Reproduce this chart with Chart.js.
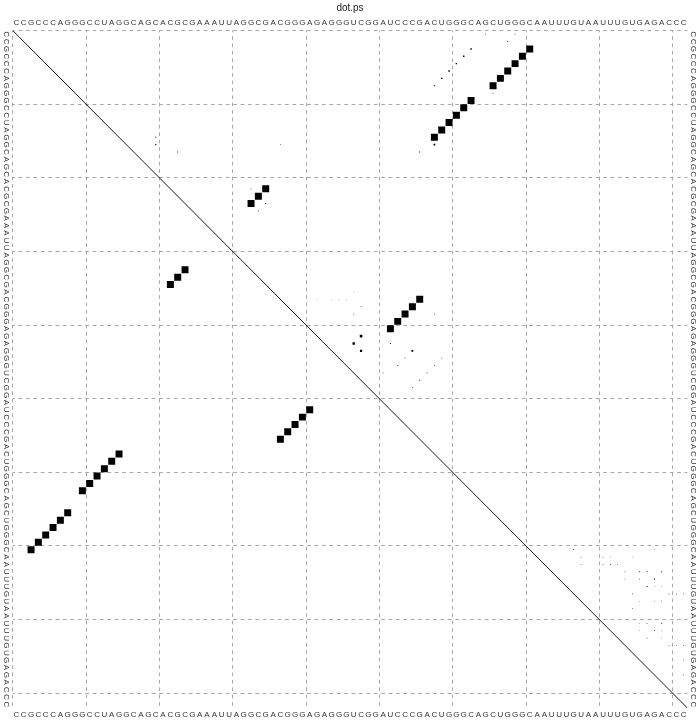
<!DOCTYPE html>
<html>
<head>
<meta charset="utf-8">
<script src="https://cdn.jsdelivr.net/npm/chart.js@4.4.0/dist/chart.umd.min.js"></script>
<style>
  html, body { margin: 0; padding: 0; background: #fff; }
  #wrap { width: 700px; height: 720px; }
</style>
</head>
<body>
<div id="wrap"><canvas id="dot"></canvas></div>
<script>
// RNA dot plot (dot.ps)
var SEQUENCE = 'CCGCCCAGGGCCUAGGCAGCACGCGAAAUUAGGCGACGGGAGAGGGUCGGAUCCCGACUGGGCAGCUGGGCAAUUUGUAAUUUGUGAGACCC';
var SEQ_LEN = SEQUENCE.length;
var POSITIONS = SEQUENCE.split('').map(function (c, k) { return k + 1; });

// mfe structure, lower left triangle
var MFE_I = [3, 4, 5, 6, 7, 8, 10, 11, 12, 13, 14, 15, 22, 23, 24, 37, 38, 39, 40, 41];
var MFE_J = [71, 70, 69, 68, 67, 66, 63, 62, 61, 60, 59, 58, 35, 34, 33, 56, 55, 54, 53, 52];

// pair probabilities, upper right triangle (box side = sqrt(p))
var PROB_I = [3, 4, 5, 6, 7, 8, 10, 11, 12, 13, 14, 15, 22, 23, 24, 37, 38, 39, 40, 41,
  3, 4, 5, 6, 7, 8, 16, 17, 1, 2, 1, 9,
  15, 16, 17, 24, 25, 22, 16,
  42, 43, 44, 44, 39, 38, 43, 46, 45, 48, 47, 46, 45, 49, 47, 39,
  37, 37, 37, 37, 36,
  71, 72, 73, 72, 72, 73, 73, 73, 72, 74, 74, 75, 75, 74, 75, 76, 74, 76, 77, 77, 77,
  78, 78, 78, 79, 81, 81, 82, 83, 81, 82, 84, 84, 86,
  71, 77, 84, 86, 88, 76, 82, 83];
var PROB_J = [71, 70, 69, 68, 67, 66, 63, 62, 61, 60, 59, 58, 35, 34, 33, 56, 55, 54, 53, 52,
  63, 62, 61, 60, 59, 58, 58, 56, 65, 68, 69, 66,
  20, 20, 23, 35, 34, 33, 37,
  48, 47, 48, 55, 47, 48, 52, 53, 54, 56, 57, 58, 59, 55, 51, 58,
  42, 44, 45, 46, 47,
  77, 78, 78, 81, 82, 81, 82, 83, 85, 84, 86, 84, 86, 87, 88, 87, 89, 89, 85, 90, 91,
  86, 88, 89, 85, 87, 89, 88, 87, 86, 86, 90, 91, 91,
  88, 92, 92, 92, 92, 88, 89, 89];
var PROB_S = [0.95, 0.95, 0.95, 0.95, 0.95, 0.95, 0.95, 0.95, 0.95, 0.95, 0.95, 0.95, 0.95, 0.95, 0.95, 0.95, 0.95, 0.95, 0.95, 0.95,
  0.2, 0.2, 0.2, 0.2, 0.2, 0.15, 0.25, 0.15, 0.1, 0.12, 0.1, 0.12,
  0.12, 0.15, 0.12, 0.12, 0.12, 0.1, 0.08,
  0.35, 0.32, 0.3, 0.25, 0.1, 0.1, 0.12, 0.12, 0.1, 0.12, 0.12, 0.1, 0.1, 0.1, 0.1, 0.1,
  0.06, 0.06, 0.07, 0.07, 0.06,
  0.12, 0.1, 0.08, 0.1, 0.08, 0.08, 0.1, 0.08, 0.07, 0.1, 0.12, 0.08, 0.1, 0.12, 0.14, 0.14, 0.12, 0.08, 0.1, 0.1, 0.1,
  0.08, 0.08, 0.1, 0.08, 0.1, 0.12, 0.12, 0.1, 0.08, 0.08, 0.08, 0.08, 0.06,
  0.08, 0.1, 0.1, 0.1, 0.1, 0.08, 0.08, 0.08];

var MFE_SIZE = 0.95;
var FONT = '"Liberation Sans", Arial, sans-serif';
var GRID_COLOR = '#a8a8a8';
var LETTER_COLOR = '#333';

function unitPx(chart) {
  var xs = chart.scales.x;
  return Math.abs(xs.getPixelForValue(2) - xs.getPixelForValue(1));
}

function boxRadius(ctx) {
  if (!ctx.raw) return 0;
  return ctx.raw.s * unitPx(ctx.chart) / Math.SQRT2;
}

function seqTicks(scale) {
  scale.ticks = POSITIONS.map(function (v) { return { value: v }; });
}

function seqLabel(value) {
  return SEQUENCE.charAt(value - 1);
}

function gridColor(ctx) {
  return (ctx.index !== undefined && ctx.index % 10 === 0) ? GRID_COLOR : 'rgba(0,0,0,0)';
}

var mfeData = MFE_I.map(function (i, k) { return { x: i, y: MFE_J[k], s: MFE_SIZE }; });
var probData = PROB_I.map(function (i, k) { return { x: PROB_J[k], y: i, s: PROB_S[k] }; });

var letterFont = { family: FONT, size: 8 };

function seqAxis(axis, position, grid, pad, fit) {
  return {
    type: 'linear', axis: axis, position: position,
    min: 0.5, max: SEQ_LEN + 0.5,
    reverse: axis === 'y',
    afterBuildTicks: seqTicks,
    afterFit: fit,
    ticks: {
      display: axis === 'x',
      autoSkip: false, minRotation: 0, maxRotation: 0, padding: pad,
      color: LETTER_COLOR, font: letterFont, callback: seqLabel
    },
    grid: grid ? {
      offset: true, drawTicks: false, lineWidth: 1, color: gridColor
    } : { display: false, drawTicks: false },
    border: grid ? { display: false, dash: [3.7, 3.7], dashOffset: 1.8 } : { display: false }
  };
}

// left/right sequence, letters turned like in the postscript
var sideLetters = {
  id: 'sideLetters',
  afterDraw: function (chart) {
    var ctx = chart.ctx, ys = chart.scales.y, area = chart.chartArea;
    ctx.save();
    ctx.font = '8px ' + FONT;
    ctx.fillStyle = LETTER_COLOR;
    ctx.textAlign = 'center';
    ctx.textBaseline = 'middle';
    POSITIONS.forEach(function (p) {
      var py = ys.getPixelForValue(p);
      [area.left - 6.5, area.right + 6].forEach(function (px) {
        ctx.save();
        ctx.translate(px, py);
        ctx.rotate(Math.PI / 2);
        ctx.fillText(seqLabel(p), 0, 0);
        ctx.restore();
      });
    });
    ctx.restore();
  }
};

new Chart(document.getElementById('dot').getContext('2d'), {
  data: {
    datasets: [
      {
        type: 'line',
        label: 'diagonal',
        data: [{ x: 0.5, y: 0.5 }, { x: SEQ_LEN + 0.5, y: SEQ_LEN + 0.5 }],
        borderColor: '#000',
        borderWidth: 0.9,
        pointRadius: 0,
        xAxisID: 'x', yAxisID: 'y'
      },
      {
        type: 'scatter',
        label: 'mfe',
        data: mfeData,
        pointStyle: 'rect',
        radius: boxRadius,
        backgroundColor: '#000',
        borderWidth: 0,
        xAxisID: 'x', yAxisID: 'y'
      },
      {
        type: 'scatter',
        label: 'probability',
        data: probData,
        pointStyle: 'rect',
        radius: boxRadius,
        backgroundColor: '#000',
        borderWidth: 0,
        xAxisID: 'x', yAxisID: 'y'
      }
    ]
  },
  options: {
    responsive: true,
    maintainAspectRatio: false,
    animation: false,
    events: [],
    layout: { padding: 0 },
    plugins: {
      legend: { display: false },
      tooltip: { enabled: false },
      title: {
        display: true,
        text: 'dot.ps',
        color: '#222',
        font: { family: FONT, size: 10, weight: 'normal' },
        padding: { top: 2, bottom: 2 }
      }
    },
    scales: {
      x: seqAxis('x', 'bottom', true, 2, function (s) { s.height = 12; }),
      x2: seqAxis('x', 'top', false, 3, function (s) { s.height = 14.5; }),
      y: seqAxis('y', 'left', true, 4, function (s) { s.width = 12.7; }),
      y2: seqAxis('y', 'right', false, 3, function (s) { s.width = 12.6; })
    }
  },
  plugins: [sideLetters]
});
</script>
</body>
</html>
